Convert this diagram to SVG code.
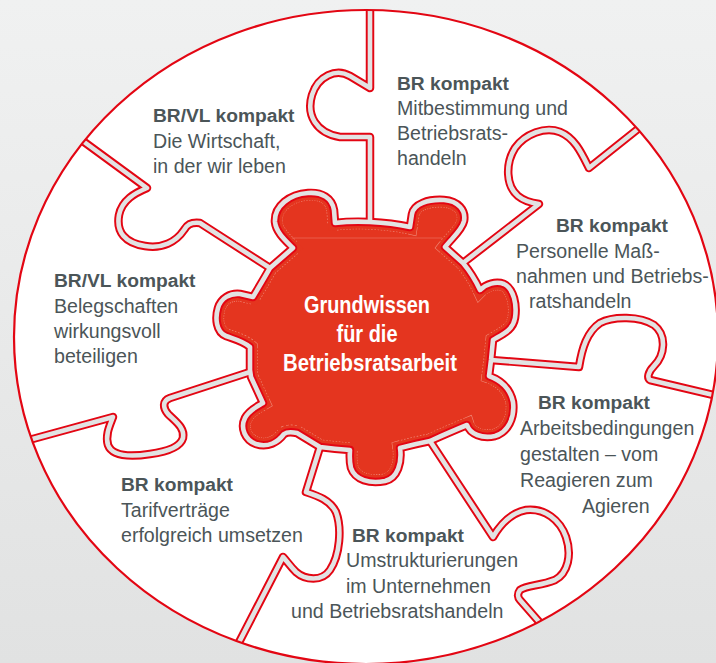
<svg xmlns="http://www.w3.org/2000/svg" xmlns:xlink="http://www.w3.org/1999/xlink" width="716" height="663" viewBox="0 0 716 663">
  <defs>
    <linearGradient id="bg" x1="0" y1="0" x2="0" y2="1">
      <stop offset="0" stop-color="#f0f1f1"/>
      <stop offset="1" stop-color="#e1e2e2"/>
    </linearGradient>
    <!-- central hub outline, reused for fill, rim and clipping -->
    <path id="hubShape" d="M270,268 L293,248 C285,240 276,232 275,222 C274,206 290,194 308,193 C322,192 332,198 334,210 L335,223 Q352,221 370,222 Q392,223 410,227 L412,214 C414,204 428,199 444,200 C458,201 466,210 464,221 C462,230 452,238 445,247 L463,263 Q473,275 480,290 C486,284 496,281 504,284 C514,289 517,305 515,318 C513,330 503,334 493,340 L491,360 L489,376 C500,380 510,388 513,402 C515,418 508,432 495,436 C482,439 470,434 467,425 Q450,432 430,441 Q415,444 400,448 C402,462 398,478 385,481 C370,484 355,480 351,468 C349,460 350,452 350,450 Q335,449 320,447 L297,433 Q288,431 284,434 C278,442 268,448 256,444 C245,440 240,428 245,418 C249,410 258,406 263,403 Q257,390 251,377 L250,370 L250,347 C243,341 234,339 226,336 C216,332 215,318 218,308 C221,298 230,293 240,294 L253,297 Q262,282 270,268 Z"/>
    <clipPath id="disc">
      <ellipse cx="366" cy="337" rx="352" ry="327"/>
    </clipPath>
    <clipPath id="hubClip">
      <use xlink:href="#hubShape"/>
    </clipPath>
  </defs>
  <style>
    .edge { fill: none; stroke: #e30613; stroke-width: 8.5; stroke-linejoin: round; }
    .core { fill: none; stroke: #e2e3e3; stroke-width: 4.6; stroke-linejoin: round; }
    .label { font-family: "Liberation Sans", Arial, sans-serif; font-size: 19.6px; fill: #4b5558; }
    .head { font-weight: bold; font-size: 19.2px; }
    .hub-text { font-family: "Liberation Sans", Arial, sans-serif; font-weight: bold; font-size: 23px; fill: #ffffff; text-anchor: middle; }
  </style>

  <!-- backdrop and white disc -->
  <rect width="716" height="663" fill="url(#bg)"/>
  <ellipse cx="366" cy="337" rx="352" ry="327" fill="#ffffff"/>

  <!-- central hub -->
  <g id="hub">
    <use xlink:href="#hubShape" fill="#e4351f"/>
    <g clip-path="url(#hubClip)">
      <use xlink:href="#hubShape" fill="none" stroke="#ef8a78" stroke-width="15.2" stroke-dasharray="1.6 1.6"/>
      <use xlink:href="#hubShape" fill="none" stroke="#e4351f" stroke-width="14"/>
      <line x1="292" y1="238" x2="442" y2="238" stroke="#ec6e5b" stroke-width="0.7"/>
    </g>
    <use xlink:href="#hubShape" class="edge"/>
    <text class="hub-text" x="367" y="313" textLength="126" lengthAdjust="spacingAndGlyphs">Grundwissen</text>
    <text class="hub-text" x="367" y="342" textLength="61" lengthAdjust="spacingAndGlyphs">für die</text>
    <text class="hub-text" x="370" y="371" textLength="174" lengthAdjust="spacingAndGlyphs">Betriebsratsarbeit</text>
  </g>

  <!-- puzzle seams between the pieces -->
  <g id="connectors" clip-path="url(#disc)">
    <g class="edge">
      <path id="seam-top" d="M370,2 L370,88 L350,76 C336,68 318,76 312,95 C306,115 316,133 340,137 L370,137 L370,222"/>
      <path id="seam-upper-right" d="M648,121 L589,168 C582,154 575,138 560,132 C545,126 525,134 515,148 C505,164 506,186 518,196 C524,201 532,203 539,204 L463,263"/>
      <path id="seam-right" d="M491,360 L579,367 C582,348 587,332 600,323 C613,316 640,316 654,325 C667,335 665,355 654,366 C648,372 647,378 650,380 L726,398"/>
      <path id="seam-lower-right" d="M430,441 L493,537 C500,525 510,513 526,510 C545,508 560,520 566,537 C572,555 568,573 555,580 C540,586 527,585 520,590 C517,594 518,598 520,600 L548,632"/>
      <path id="seam-lower-left" d="M320,447 L306,492 C318,496 330,500 336,512 C342,528 340,555 330,570 C322,582 305,580 296,572 C290,566 286,560 283,557 L233,654"/>
      <path id="seam-left" d="M250,372 L170,398 C162,401 163,408 168,414 C176,422 185,428 183,438 C180,448 165,452 150,454 C130,457 112,456 108,445 C105,435 110,425 113,417 L18,443"/>
      <path id="seam-upper-left" d="M76,136 L147,188 C135,193 122,200 119,215 C116,232 125,243 145,246 C162,249 176,242 184,230 C187,225 190,222 200,223 L270,268"/>
    </g>
    <g class="core">
      <use xlink:href="#seam-top"/>
      <use xlink:href="#seam-upper-right"/>
      <use xlink:href="#seam-right"/>
      <use xlink:href="#seam-lower-right"/>
      <use xlink:href="#seam-lower-left"/>
      <use xlink:href="#seam-left"/>
      <use xlink:href="#seam-upper-left"/>
    </g>
  </g>

  <!-- hub rim core over the seam joints -->
  <use xlink:href="#hubShape" class="core"/>

  <!-- disc outline -->
  <ellipse cx="366" cy="337" rx="352" ry="327" fill="none" stroke="#e30613" stroke-width="2.2"/>

  <!-- piece labels -->
  <g id="piece-wirtschaft" class="label">
    <text x="153" y="122" class="head">BR/VL kompakt</text>
    <text x="153" y="148">Die Wirtschaft,</text>
    <text x="153" y="173">in der wir leben</text>
  </g>
  <g id="piece-mitbestimmung" class="label">
    <text x="397" y="90" class="head">BR kompakt</text>
    <text x="397" y="115">Mitbestimmung und</text>
    <text x="397" y="140">Betriebsrats-</text>
    <text x="397" y="165">handeln</text>
  </g>
  <g id="piece-personelle" class="label">
    <text x="556" y="232" class="head">BR kompakt</text>
    <text x="516" y="258">Personelle Maß-</text>
    <text x="516" y="283">nahmen und Betriebs-</text>
    <text x="529" y="308">ratshandeln</text>
  </g>
  <g id="piece-arbeitsbedingungen" class="label">
    <text x="538" y="409" class="head">BR kompakt</text>
    <text x="520" y="435">Arbeitsbedingungen</text>
    <text x="520" y="461">gestalten – vom</text>
    <text x="520" y="487">Reagieren zum</text>
    <text x="582" y="513">Agieren</text>
  </g>
  <g id="piece-umstrukturierungen" class="label">
    <text x="352" y="542" class="head">BR kompakt</text>
    <text x="346" y="567">Umstrukturierungen</text>
    <text x="346" y="593">im Unternehmen</text>
    <text x="291" y="618">und Betriebsratshandeln</text>
  </g>
  <g id="piece-tarifvertraege" class="label">
    <text x="121" y="491" class="head">BR kompakt</text>
    <text x="121" y="517">Tarifverträge</text>
    <text x="121" y="542">erfolgreich umsetzen</text>
  </g>
  <g id="piece-belegschaften" class="label">
    <text x="54" y="287" class="head">BR/VL kompakt</text>
    <text x="54" y="313">Belegschaften</text>
    <text x="54" y="338">wirkungsvoll</text>
    <text x="54" y="363">beteiligen</text>
  </g>
</svg>
